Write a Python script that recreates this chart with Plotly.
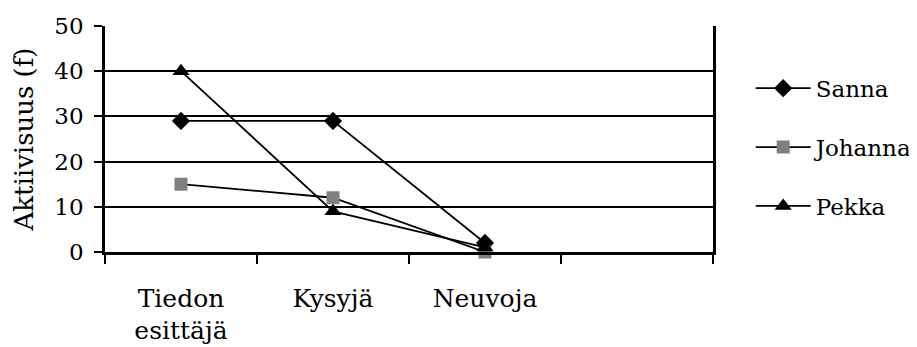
import plotly.graph_objects as go

categories = ["Tiedon<br>esittäjä", "Kysyjä", "Neuvoja", " "]
sanna = [29, 29, 2, None]
johanna = [15, 12, 0, None]
pekka = [40, 9, 1, None]
y_ticks = [0, 10, 20, 30, 40, 50]

FONT = "DejaVu Serif"

fig = go.Figure()
series = [
    ("Sanna", sanna, "diamond", "black", 14),
    ("Johanna", johanna, "square", "#808080", 13),
    ("Pekka", pekka, "triangle-up", "black", 15),
]
for name, vals, sym, col, sz in series:
    fig.add_trace(go.Scatter(
        x=categories, y=vals, name=name, mode="lines+markers",
        legendgroup=name,
        line=dict(color="black", width=1.8),
        marker=dict(symbol=sym, color=col, size=sz, line=dict(width=0)),
        cliponaxis=False,
    ))

fig.update_layout(
    template="none",
    width=909, height=339,
    margin=dict(l=97, r=204, t=18, b=95, autoexpand=False),
    paper_bgcolor="white", plot_bgcolor="white",
    font=dict(family=FONT, size=24, color="black"),
    showlegend=True,
    legend=dict(x=1.062, y=0.82, xanchor="left", yanchor="top",
                font=dict(size=23), tracegroupgap=26, itemwidth=55,
                bgcolor="rgba(0,0,0,0)"),
    xaxis=dict(
        type="category", categoryorder="array", categoryarray=categories,
        range=[-0.5, 3.5], tickson="boundaries", ticks="outside",
        ticklen=9, tickwidth=2, tickcolor="black",
        showline=True, linecolor="black", linewidth=2.5,
        showgrid=False, tickfont=dict(size=25), ticklabelstandoff=22,
        automargin=False,
    ),
    yaxis=dict(
        range=[0, 50], tickvals=y_ticks, ticks="outside", ticklen=8,
        tickwidth=2, tickcolor="black",
        showline=True, linecolor="black", linewidth=2.5, mirror=True,
        showgrid=True, gridcolor="black", gridwidth=2,
        zeroline=False, automargin=False,
        title=dict(text="Aktiivisuus (f)", font=dict(size=26), standoff=14),
        tickfont=dict(size=23), ticklabelstandoff=6,
    ),
)

fig.write_html("out.html")
